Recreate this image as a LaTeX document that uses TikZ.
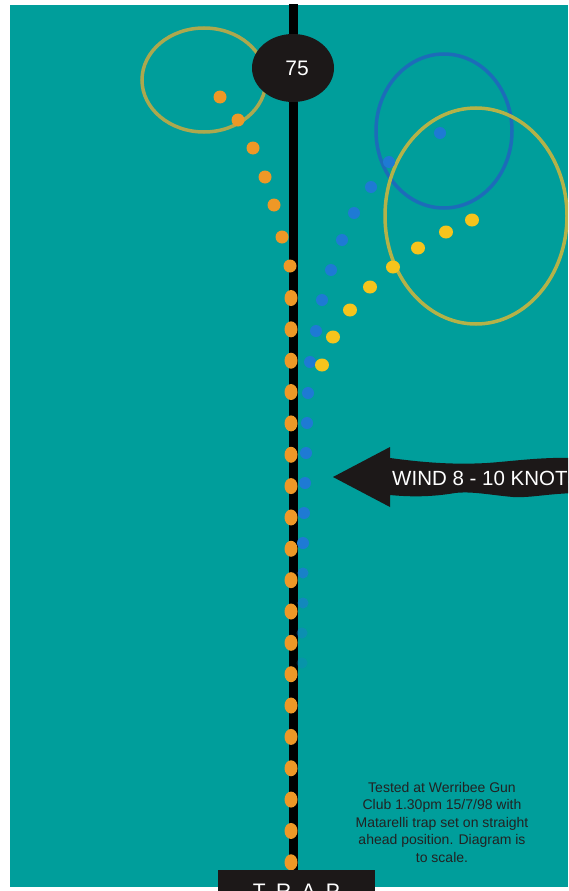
\documentclass[tikz,border=0pt]{standalone}
\usepackage{fontspec}
\setmainfont{Liberation Sans}
\definecolor{bgteal}{RGB}{0,158,155}
\definecolor{olivering}{RGB}{172,168,78}
\definecolor{yelring}{RGB}{180,178,72}
\definecolor{bluering}{RGB}{28,108,185}
\definecolor{bluedot}{RGB}{30,122,212}
\definecolor{orgdot}{RGB}{238,152,38}
\definecolor{yeldot}{RGB}{246,196,28}
\definecolor{inkblack}{RGB}{28,24,24}
\definecolor{notetext}{RGB}{34,34,34}
\tikzset{
  ring/.style={line width=3.5pt},
  odot/.style={fill=orgdot},
  bdot/.style={fill=bluedot},
  ydot/.style={fill=yeldot},
  note/.style={anchor=base, inner sep=0pt, text=notetext, font=\fontsize{14}{17}\selectfont},
}
\begin{document}
\begin{tikzpicture}[x=1pt,y=-1pt]
\useasboundingbox (0,0) rectangle (568,891);
\clip (0,0) rectangle (568,891);
% background
\fill[white] (0,0) rectangle (568,891);
\fill[bgteal] (10,5) rectangle (568,887);
% target rings
\draw[ring, olivering] (204,80) ellipse [x radius=62, y radius=52];
\draw[ring, bluering] (444,131) ellipse [x radius=68, y radius=77];
\draw[ring, yelring] (476,216) ellipse [x radius=91, y radius=108];
% centre line
\fill[black] (289,4) rectangle (297.5,875);
% blue trajectory
\foreach \p in {(440,133),(389,162),(371,187),(354,213),(342,240),(331,270),(322,300),(316,331),(310,362),(308,393),(307,423),(306,453),(305,483),(304,513),(303,543)}
  \fill[bdot] \p circle [radius=6];
\foreach \p/\o in {(303,573)/0.8,(303,603)/0.6,(302,633)/0.4,(302,663)/0.25}
  \fill[bdot, opacity=\o] \p circle [radius=5.5];
% yellow trajectory
\foreach \p in {(472,220),(446,232),(418,248),(393,267),(370,287),(350,310),(333,337),(322,365)}
  \fill[ydot] \p ellipse [x radius=7, y radius=6.5];
% orange trajectory
\foreach \p in {(220,97),(238,120),(253,148),(265,177),(274,205),(282,237),(290,266)}
  \fill[odot] \p circle [radius=6.5];
\foreach \k in {0,...,18}
  \fill[odot] (291,298+31.35*\k) ellipse [x radius=6.5, y radius=8];
% 75 marker
\fill[inkblack] (293,68) ellipse [x radius=41, y radius=34];
\node[text=white, font=\fontsize{21}{21}\selectfont] (n75) at (297,68) {75};
% wind arrow
\fill[inkblack] (333,477) -- (390,447) -- (390,458)
  .. controls (420,462) and (450,465) .. (487,463)
  .. controls (515,461) and (540,457) .. (575,458)
  -- (575,493)
  .. controls (545,494) and (530,498) .. (513,497)
  .. controls (490,495) and (472,491) .. (455,493)
  .. controls (432,497) and (410,497) .. (390,495)
  -- (390,507) -- cycle;
\node[anchor=base west, inner sep=0pt, text=white, font=\fontsize{20.5}{21}\selectfont] (wind) at (392,485) {WIND 8 - 10 KNOTS};
% note
\node[note] (l1) at (442,792) {Tested at Werribee Gun};
\node[note] (l2) at (442,809.5) {Club 1.30pm 15/7/98 with};
\node[note] (l3) at (442,827) {Matarelli trap set on straight};
\node[note] (l4) at (442,844.5) {ahead position. Diagram is};
\node[note] (l5) at (442,862) {to scale.};
% trap box
\fill[inkblack] (218,870) rectangle (375,895);
\node[anchor=base, inner sep=0pt, text=white, font=\fontsize{21}{21}\selectfont] (trap) at (296.5,898) {T\hspace{4.5pt} R\hspace{4.5pt} A\hspace{4.5pt} P};
\end{tikzpicture}
\end{document}
